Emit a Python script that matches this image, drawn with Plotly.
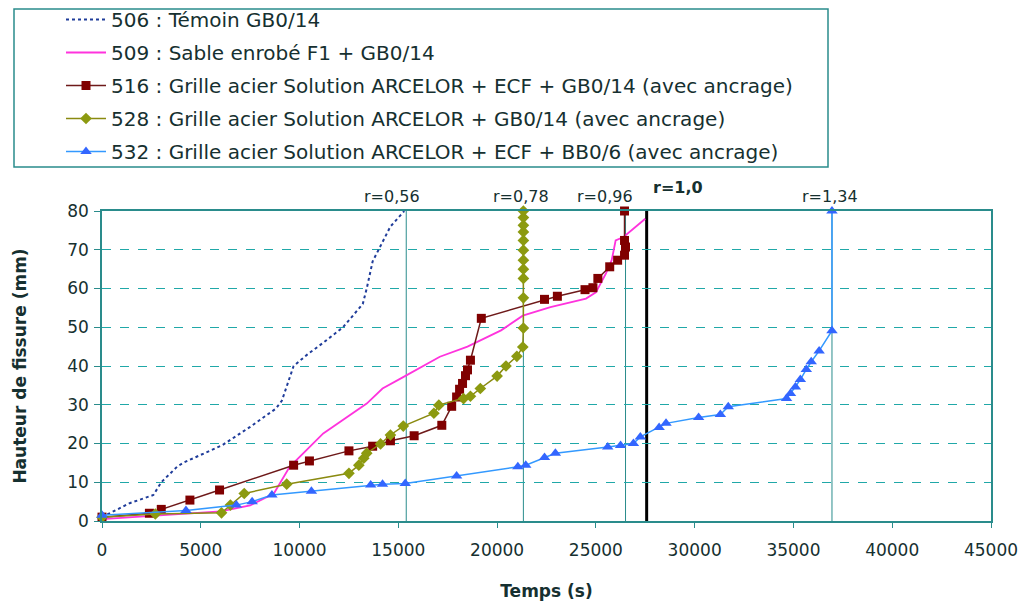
import plotly.graph_objects as go

# crack height (mm) vs time (s)
t506 = [0, 1400, 2600, 3000, 3800, 4100, 6100, 7500, 8800, 9100, 9700, 10400, 11200, 12200, 13200, 13400, 13700, 14100, 14600, 15300]
h506 = [1, 4.6, 6.7, 10, 14, 15, 19.6, 24.3, 29, 31, 40, 43, 46, 50, 56, 60, 67, 71, 76, 80]

t509 = [0, 3000, 6000, 7500, 8700, 9500, 11200, 13400, 14200, 15200, 17100, 18500, 20200, 21300, 22700, 24500, 25000, 25500, 25800, 26000, 26400, 27500]
h509 = [0.5, 1.5, 2.5, 4, 7.1, 14, 22.6, 30.3, 34.2, 37, 42.4, 45, 49.2, 53, 55.2, 57.4, 59, 63.8, 67.3, 72.4, 73.3, 78]

t516 = [0, 2400, 3000, 4450, 5950, 9700, 10500, 12500, 13700, 14600, 15800, 17200, 17700, 17950, 18100, 18250, 18400, 18500, 18650,
        19200, 22400, 23050, 24450, 24850, 25100, 25700, 26100, 26450, 26500, 26450, 26450]
h516 = [1, 2, 3, 5.4, 8, 14.4, 15.5, 18.1, 19.3, 20.7, 22, 24.7, 29.6, 32, 34, 35.5, 37.5, 39, 41.5,
        52.3, 57.2, 58, 59.7, 60.2, 62.6, 65.6, 67.3, 68.6, 70.7, 72.4, 80]

t528 = [0, 2700, 6050, 6500, 7200, 9350, 12500, 13000, 13250, 13400, 14100, 14600, 15250, 16800, 17050, 18300, 18650, 19150, 20000,
        20450, 21000, 21300, 21330, 21330, 21330, 21330, 21330, 21330, 21330, 21330, 21330, 21330, 21330]
h528 = [1, 1.8, 2.1, 4.1, 7.1, 9.5, 12.3, 14.4, 16.2, 17.5, 19.9, 22.2, 24.5, 27.8, 29.9, 31.6, 32.2, 34.2, 37.4,
        40, 42.5, 44.9, 49.8, 57.6, 62.6, 65, 67.3, 69.9, 72.4, 74.6, 76.3, 78.3, 80]

t532 = [0, 4250, 6800, 7600, 8600, 10600, 13600, 14200, 15350, 17950, 21050, 21450, 22400, 22950, 25600, 26250, 26900, 27250,
        28200, 28550, 30200, 31300, 31700, 34650, 34850, 35100, 35350, 35650, 35900, 36300, 36950, 36950]
h532 = [1.5, 2.7, 4.1, 5, 6.7, 7.7, 9.3, 9.5, 9.7, 11.6, 14, 14.4, 16.4, 17.5, 19.1, 19.5, 20, 21.7,
        24.1, 25.2, 26.7, 27.5, 29.5, 31.6, 32.9, 34.6, 36.5, 39.1, 41.1, 43.9, 49.1, 80]

names = ["506 : Témoin GB0/14",
         "509 : Sable enrobé F1 + GB0/14",
         "516 : Grille acier Solution ARCELOR + ECF + GB0/14 (avec ancrage)",
         "528 : Grille acier Solution ARCELOR + GB0/14 (avec ancrage)",
         "532 : Grille acier Solution ARCELOR + ECF + BB0/6 (avec ancrage)"]

# ratio lines
r_labels = ["r=0,56", "r=0,78", "r=0,96", "r=1,0", "r=1,34"]
r_times = [15400, 21330, 26500, 27570, 36950]

TEAL = "#2a8c8c"
FONT = "DejaVu Sans, Liberation Sans, Arial, sans-serif"
TXT = "#163030"

fig = go.Figure()

fig.add_trace(go.Scatter(x=t506, y=h506, name=names[0], mode="lines", legendgroup="a",
                         line=dict(color="#1f3c9a", width=2, dash="dot")))
fig.add_trace(go.Scatter(x=t509, y=h509, name=names[1], mode="lines", legendgroup="b",
                         line=dict(color="#ff33dd", width=1.8)))
fig.add_trace(go.Scatter(x=t516, y=h516, name=names[2], mode="lines+markers", legendgroup="c",
                         line=dict(color="#6e1a1a", width=1.5),
                         marker=dict(symbol="square", size=9, color="#800000")))
fig.add_trace(go.Scatter(x=t528, y=h528, name=names[3], mode="lines+markers", legendgroup="d",
                         line=dict(color="#8a8a10", width=1.5),
                         marker=dict(symbol="diamond", size=9, color="#8c9a10")))
fig.add_trace(go.Scatter(x=t532, y=h532, name=names[4], mode="lines+markers", legendgroup="e",
                         line=dict(color="#3399ff", width=1.5),
                         marker=dict(symbol="triangle-up", size=10, color="#3366ff")))

for tr in fig.data:
    tr.cliponaxis = False

# vertical ratio lines + labels
label_shift = [-14, -2, -21, 4, -2]
for lab, tv, dx in zip(r_labels, r_times, label_shift):
    bold = lab == "r=1,0"
    fig.add_shape(type="line", x0=tv, x1=tv, y0=0, y1=80, xref="x", yref="y",
                  line=dict(color="black" if bold else TEAL, width=3 if bold else 1), layer="below")
    fig.add_annotation(x=tv, y=80, xref="x", yref="y", text=f"<b>{lab}</b>" if bold else lab,
                       showarrow=False, yanchor="bottom", xanchor="left" if bold else "center",
                       xshift=dx, yshift=12 if bold else 3,
                       font=dict(family=FONT, size=16, color=TXT))

# legend frame (page body adds an 8px offset, so the figure is 8px smaller)
fig.add_shape(type="rect", xref="paper", yref="paper",
              x0=(14 - 102) / 889, x1=(828 - 102) / 889,
              y0=(521 - 167) / 310, y1=(521 - 9) / 310,
              line=dict(color=TEAL, width=1.5), fillcolor="rgba(0,0,0,0)")

fig.update_layout(
    width=1020, height=596,
    margin=dict(l=94, r=37, t=203, b=83, autoexpand=False),
    paper_bgcolor="white", plot_bgcolor="white",
    font=dict(family=FONT, size=17, color=TXT),
    showlegend=True,
    legend=dict(xref="paper", yref="paper", x=(61 - 102) / 889, y=(521 + 0) / 310,
                xanchor="left", yanchor="top", bgcolor="rgba(0,0,0,0)", borderwidth=0,
                font=dict(family=FONT, size=20, color=TXT), tracegroupgap=4,
                itemwidth=40),
    xaxis=dict(range=[0, 45000], tick0=0, dtick=5000, tickformat="d", showgrid=False, zeroline=False,
               showline=True, linecolor=TEAL, linewidth=1.5, mirror=True,
               ticks="outside", ticklen=5, tickcolor=TEAL, ticklabelstandoff=8,
               title=dict(text="<b>Temps (s)</b>", font=dict(size=17), standoff=26)),
    yaxis=dict(range=[0, 80], tick0=0, dtick=10, showgrid=True, gridcolor="#20a8a8", griddash="dash",
               gridwidth=1, zeroline=False,
               showline=True, linecolor=TEAL, linewidth=1.5, mirror=True,
               ticks="outside", ticklen=6, tickcolor=TEAL, ticklabelstandoff=2,
               title=dict(text="<b>Hauteur de fissure (mm)</b>", font=dict(size=17), standoff=36)),
)

fig.write_html("out.html")
